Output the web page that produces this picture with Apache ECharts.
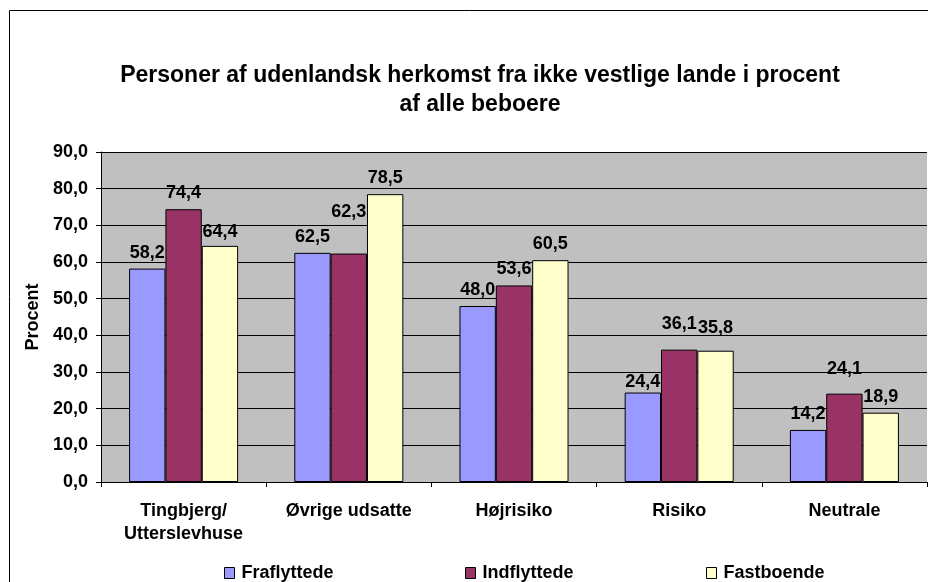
<!DOCTYPE html>
<html><head><meta charset="utf-8">
<script src="https://cdn.jsdelivr.net/npm/echarts@6/dist/echarts.min.js"></script>
<style>html,body{margin:0;padding:0;background:#fff}#c{width:928px;height:582px}</style>
</head><body><div id="c"></div>
<script>
const categories = ['Tingbjerg/\nUtterslevhuse', 'Øvrige udsatte', 'Højrisiko', 'Risiko', 'Neutrale'];
const seriesNames = ['Fraflyttede', 'Indflyttede', 'Fastboende'];
const fraflyttede = [58.2, 62.5, 48.0, 24.4, 14.2];
const indflyttede = [74.4, 62.3, 53.6, 36.1, 24.1];
const fastboende = [64.4, 78.5, 60.5, 35.8, 18.9];
const yTicks = [0, 10, 20, 30, 40, 50, 60, 70, 80, 90];

const colors = ['#9999FF', '#993366', '#FFFFCC'];
const values = [fraflyttede, indflyttede, fastboende];
// label shifts to mimic the original's overlap avoidance
const lift = [[0,0,0,5,0],[0,-26,0,-10,-9],[2,0,0,-7,0]];
const FONT = '"Liberation Sans", Arial, sans-serif';
const fmt = v => Number(v).toFixed(1).replace('.', ',');

const chart = echarts.init(document.getElementById('c'), null, {renderer: 'canvas'});
const series = values.map((arr, si) => ({
  name: seriesNames[si],
  type: 'bar',
  barGap: '0%',
  barCategoryGap: '34%',
  data: arr.map((v, i) => ({
    value: v,
    label: {offset: [0, lift[si][i]]}
  })),
  itemStyle: {color: colors[si], borderColor: '#000', borderWidth: 1},
  label: {
    show: true, position: 'top', distance: 7,
    fontFamily: FONT, fontWeight: 'bold', fontSize: 18, color: '#000',
    formatter: p => fmt(p.value)
  }
}));
const legendLeft = [224, 465, 706];
const legends = seriesNames.map((n, i) => ({
  data: [n], left: legendLeft[i], top: 564, icon: 'rect',
  itemWidth: 10, itemHeight: 11, itemGap: 4, padding: 0,
  itemStyle: {borderColor: '#000', borderWidth: 1},
  textStyle: {fontFamily: FONT, fontWeight: 'bold', fontSize: 18, color: '#000', padding: [0,0,0,2]},
  selectedMode: false
}));
chart.setOption({
  animation: false,
  backgroundColor: '#fff',
  color: colors,
  title: {
    text: 'Personer af udenlandsk herkomst fra ikke vestlige lande i procent\naf alle beboere',
    left: 480, top: 61, textAlign: 'center', padding: 0,
    textStyle: {fontFamily: FONT, fontWeight: 'bold', fontSize: 23, lineHeight: 29, color: '#000'}
  },
  legend: legends,
  grid: {left: 101, right: 1, top: 152, bottom: 100, show: true, backgroundColor: '#C0C0C0', borderWidth: 0},
  xAxis: {
    type: 'category', data: categories,
    axisLine: {lineStyle: {color: '#000', width: 1}},
    axisTick: {show: true, length: 5, lineStyle: {color: '#000'}},
    axisLabel: {fontFamily: FONT, fontWeight: 'bold', fontSize: 18, color: '#000', margin: 18, lineHeight: 23, interval: 0}
  },
  yAxis: {
    type: 'value', min: 0, max: 90, interval: 10,
    name: 'Procent', nameLocation: 'middle', nameGap: 58, nameRotate: 90,
    nameTextStyle: {fontFamily: FONT, fontWeight: 'bold', fontSize: 18, color: '#000'},
    axisLine: {show: true, lineStyle: {color: '#000'}},
    axisTick: {show: true, length: 5, lineStyle: {color: '#000'}},
    splitLine: {show: true, lineStyle: {color: '#000', width: 1}},
    axisLabel: {fontFamily: FONT, fontWeight: 'bold', fontSize: 18, color: '#000', margin: 13,
      formatter: v => yTicks.includes(v) ? fmt(v) : ''}
  },
  graphic: [{type: 'rect', shape: {x: 9.5, y: 10.5, width: 930, height: 600}, style: {fill: 'none', stroke: '#000', lineWidth: 1}, silent: true, z: 100}],
  series: series
});
</script></body></html>
